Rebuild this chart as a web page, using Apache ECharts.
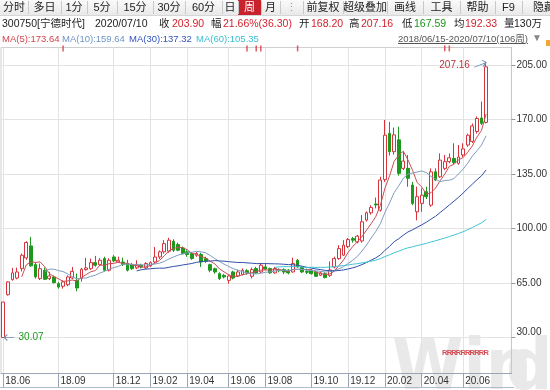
<!DOCTYPE html>
<html><head><meta charset="utf-8">
<script src="https://cdn.jsdelivr.net/npm/echarts@6/dist/echarts.min.js"></script>
<style>
html,body{margin:0;padding:0;background:#fff;overflow:hidden;}
#wrap{position:relative;width:550px;height:390px;font-family:"Liberation Sans","Noto Sans CJK SC",sans-serif;}
#c{position:absolute;left:0;top:0;width:550px;height:390px;}
.hd{position:absolute;white-space:nowrap;line-height:1;}
#tb{position:absolute;left:0;top:0;width:550px;height:15px;background:linear-gradient(#fafafa,#e9e9e9);border-bottom:1px solid #d6d6d6;}
.sep{position:absolute;top:1px;width:1px;height:13px;background:#c9c9c9;}
</style>
</head><body><div id="wrap"><div id="c"></div><div id="tb"></div></div>
<script>
// ---------- data ----------
const weeks = ['2018/06/15','2018/06/22','2018/06/29','2018/07/06','2018/07/13','2018/07/20','2018/07/27','2018/08/03','2018/08/10','2018/08/17','2018/08/24','2018/08/31','2018/09/07','2018/09/14','2018/09/21','2018/09/28','2018/10/12','2018/10/19','2018/10/26','2018/11/02','2018/11/09','2018/11/16','2018/11/23','2018/11/30','2018/12/07','2018/12/14','2018/12/21','2018/12/28',
'2019/01/04','2019/01/11','2019/01/18','2019/01/25','2019/02/01','2019/02/15','2019/02/22','2019/03/01','2019/03/08','2019/03/15','2019/03/22','2019/03/29','2019/04/04','2019/04/12','2019/04/19','2019/04/26','2019/04/30','2019/05/10','2019/05/17','2019/05/24','2019/05/31','2019/06/06','2019/06/14','2019/06/21','2019/06/28','2019/07/05','2019/07/12','2019/07/19','2019/07/26','2019/08/02','2019/08/09','2019/08/16','2019/08/23','2019/08/30','2019/09/06','2019/09/12','2019/09/20','2019/09/27','2019/09/30','2019/10/11','2019/10/18','2019/10/25','2019/11/01','2019/11/08','2019/11/15','2019/11/22','2019/11/29','2019/12/06','2019/12/13','2019/12/20','2019/12/27',
'2020/01/03','2020/01/10','2020/01/17','2020/01/23','2020/02/07','2020/02/14','2020/02/21','2020/02/28','2020/03/06','2020/03/13','2020/03/20','2020/03/27','2020/04/03','2020/04/10','2020/04/17','2020/04/24','2020/04/30','2020/05/08','2020/05/15','2020/05/22','2020/05/29','2020/06/05','2020/06/12','2020/06/19','2020/06/24','2020/07/03','2020/07/10'];

// [open, close, low, high]
const ohlc = [
[30.07,52.9,30.07,53.0],[57.6,65.8,57.0,66.2],[67.3,71.6,66.6,74.8],[68.3,72.2,67.5,75.0],[74.3,82.9,72.5,84.0],
[81.2,91.1,80.0,91.9],[88.9,76.1,75.5,94.7],[76.9,69.0,68.0,78.0],[67.9,74.3,67.0,77.6],[73.3,67.5,67.0,75.0],
[67.9,69.6,67.0,72.2],[69.0,65.3,64.8,70.0],[64.7,62.5,61.5,65.8],[63.0,65.8,61.5,66.8],[64.0,69.0,63.0,70.0],
[68.3,72.6,67.5,75.4],[66.8,61.9,59.8,71.1],[67.9,73.9,66.0,74.8],[73.7,74.8,73.0,81.2],[74.3,78.2,73.5,80.8],
[78.2,76.5,75.5,82.5],[76.9,79.7,76.0,81.0],[80.8,73.3,72.5,82.0],[73.3,79.7,72.5,81.0],[81.8,79.3,78.5,83.0],
[78.6,79.7,78.0,82.0],[78.6,76.9,76.0,81.4],[77.6,73.3,72.5,80.0],[76.9,74.3,73.5,78.0],[74.8,76.5,74.0,79.7],
[76.5,75.4,74.5,77.5],[74.8,77.6,74.0,78.5],[76.1,78.2,75.5,79.0],[78.6,81.8,77.5,88.3],[81.8,85.1,80.5,86.0],
[85.1,90.4,84.0,92.6],[85.5,92.6,84.5,94.1],[91.9,86.1,85.0,93.2],[89.8,86.1,85.5,91.0],[87.6,84.0,83.5,88.5],
[85.1,83.4,81.9,86.1],[84.0,80.8,80.0,85.0],[82.9,84.0,81.9,85.1],[83.4,78.6,75.4,84.5],[80.8,79.0,78.0,82.0],
[76.9,73.3,72.0,77.5],[74.3,72.2,71.0,75.0],[71.1,67.9,67.0,72.0],[70.0,69.0,68.0,71.0],[66.8,69.6,64.7,70.5],
[72.2,68.3,67.5,73.0],[69.6,72.2,69.0,73.5],[70.5,73.3,70.0,74.5],[73.0,71.5,70.5,74.0],[69.4,73.7,68.0,75.0],
[74.4,71.6,71.0,75.5],[72.2,76.5,71.5,78.0],[75.4,74.1,73.5,77.6],[74.4,71.6,71.0,75.0],[71.6,74.4,71.0,75.5],
[73.5,73.0,72.0,74.5],[73.7,72.2,70.8,74.5],[73.3,71.6,70.7,74.0],[72.2,77.6,71.8,81.4],[79.7,75.4,75.0,80.5],
[75.4,72.2,71.5,76.0],[72.5,72.0,70.8,74.3],[73.3,71.1,70.5,74.0],[72.2,69.4,69.0,73.0],[70.1,71.6,69.5,72.5],
[71.1,68.6,68.0,72.0],[70.0,73.5,69.0,79.0],[75.4,80.8,74.5,82.0],[80.8,87.2,80.0,89.4],[83.0,89.4,82.5,92.6],
[88.5,93.0,87.5,94.0],[93.6,92.6,91.0,94.7],[91.5,95.2,90.5,96.0],[92.1,104.4,91.0,108.7],[105.5,110.2,104.5,111.0],
[110.2,113.6,109.0,115.0],[115.8,115.2,113.0,120.0],[111.9,131.2,111.0,133.3],[131.5,160.0,130.0,169.8],[161.2,149.4,147.0,168.5],
[149.4,160.2,147.5,164.9],[157.0,135.5,134.0,165.5],[138.7,143.4,137.6,149.4],[138.7,132.3,126.9,147.3],[128.0,116.2,115.1,130.0],
[110.8,120.5,105.4,126.9],[116.2,121.5,110.8,125.8],[123.7,120.5,119.0,126.9],[115.1,136.5,114.0,138.7],[136.5,131.2,130.5,138.7],
[133.3,144.0,132.5,148.3],[138.7,143.0,137.6,147.3],[143.0,145.5,142.0,148.3],[145.1,142.5,141.5,154.8],[141.9,146.0,141.0,153.7],
[147.3,151.2,146.0,154.8],[153.7,160.0,152.5,161.0],[156.0,166.0,155.0,167.5],[162.3,170.7,161.0,172.0],[171.0,167.6,166.5,181.6],
[168.2,203.9,167.59,207.16]
];

const yTicks = [30, 65, 100, 135, 170, 205];
const xTickLabels = ['18.06','18.09','18.12','19.02','19.04','19.06','19.08','19.10','19.12','20.02','20.04','20.06'];
const maPeriods = [5, 10, 30, 60];
const maHeader = ['173.64', '159.64', '137.32', '105.35'];
const rWeeks = [96,97,98,99,100,101,102,103,104,105];
const infoMineWeeks = [13, 53, 55, 56, 64, 96, 97];
const highMark = {week: 105, value: 207.16};
const lowMark = {week: 0, value: 30.07};

const toolbarItems = ['分时','多日','1分','5分','15分','30分','60分','日','周','月','⋮','前复权','超级叠加','画线','工具','帮助','F9','隐藏'];
const infoRow = [
  ['300750[宁德时代]','#222'],['2020/07/10','#222'],['收','#222'],['203.90','#d3232e'],['幅','#222'],['21.66%(36.30)','#d3232e'],
  ['开','#222'],['168.20','#d3232e'],['高','#222'],['207.16','#d3232e'],['低','#222'],['167.59','#1a951a'],
  ['均','#222'],['192.33','#d3232e'],['量','#222'],['130万','#222']
];
const rangeText = '2018/06/15-2020/07/10(106周)';

// ---------- header (layout) ----------
const tb = document.getElementById('tb');
const wrap = document.getElementById('wrap');
const tbCells = [[0,28],[28,61],[61,87],[87,117],[117,153],[153,185],[185,222],[222,238],[238,261],[261,280],[280,303],[303,343],[343,387],[387,423],[423,460],[460,495],[495,522],[522,566]];
toolbarItems.forEach((t,i)=>{
  const [a,b] = tbCells[i];
  const d = document.createElement('div');
  d.className='hd';
  d.textContent=t;
  const sel = t==='周';
  d.style.cssText += `left:${a}px;width:${b-a}px;top:0;height:15px;line-height:15px;text-align:center;font-size:11px;color:${sel?'#fff':(t==='⋮'?'#999':'#222')};` + (sel?'background:#c8232c;':'');
  tb.appendChild(d);
  if(i>0){const s=document.createElement('div');s.className='sep';s.style.left=a+'px';tb.appendChild(s);}
});
const infoX = [2,95,159,172,211,223,299,311,349,361,402,414,454,465,504,514];
infoRow.forEach(([t,c],i)=>{
  const d=document.createElement('div');d.className='hd';d.textContent=t;
  d.style.cssText+=`left:${infoX[i]}px;top:18px;font-size:10.5px;color:${c};`;
  wrap.appendChild(d);
});
const maColors = ['#c94c55','#7f9cc0','#2f4fa8','#3fc3d4'];
const maTextColors = ['#d6434e','#6f94c6','#3454bd','#3cbfd6'];
const maX = [2,62,129,196];
maPeriods.forEach((p,i)=>{
  const d=document.createElement('div');d.className='hd';
  d.textContent=`MA(${p}):${maHeader[i]}`;
  d.style.cssText+=`left:${maX[i]}px;top:33.5px;font-size:9.5px;color:${maTextColors[i]};`;
  wrap.appendChild(d);
});
{
  const d=document.createElement('div');d.className='hd';d.textContent=rangeText;
  d.style.cssText+=`left:398px;top:33.5px;font-size:9.5px;color:#555;text-decoration:underline;`;
  wrap.appendChild(d);
  const t=document.createElement('div');t.className='hd';t.textContent='▼';
  t.style.cssText+=`left:532px;top:33px;font-size:10px;color:#888;`;
  wrap.appendChild(t);
  const o=document.createElement('div');o.className='hd';
  o.style.cssText+=`left:546px;top:40px;width:4px;height:6px;background:#f0a830;`;
  wrap.appendChild(o);
}

// ---------- chart ----------
const closes = ohlc.map(r=>r[1]);
function ma(n){
  return closes.map((_,i)=>{
    if(i<n-1) return '-';
    let s=0; for(let k=i-n+1;k<=i;k++) s+=closes[k];
    return +(s/n).toFixed(2);
  });
}
const fmtWeek = w => w.slice(2,4)+'.'+w.slice(5,7);
const tickIdx = new Set(xTickLabels.map(l => weeks.findIndex(w => fmtWeek(w)===l)));
const slots = weeks.length + 5;
const yMin = 7, yMax = 216.3;

const chart = echarts.init(document.getElementById('c'));
const arrowR = 'path://M0,7 L12,3 M8,1 L12,3 L9,6.5';
const arrowL = 'path://M10,4 L0,4 M3,1.5 L0,4 L3,6.5';
chart.setOption({
  animation:false,
  grid:{left:1, right:37, top:47.5, bottom:16.5, show:true, borderColor:'#cfcfcf', borderWidth:1},
  xAxis:{
    type:'category', data:weeks, max:slots-1, boundaryGap:true,
    axisLine:{lineStyle:{color:'#9aa4b4'}},
    axisTick:{show:true, alignWithLabel:true, length:14, interval:(i)=>tickIdx.has(i), lineStyle:{color:'#9aa4b4'}},
    axisLabel:{interval:(i)=>tickIdx.has(i), formatter:(v)=> v?fmtWeek(v):'', align:'left', margin:3, color:'#333', fontSize:10, padding:[0,0,0,2]},
    splitLine:{show:true, alignWithLabel:true, interval:(i)=>tickIdx.has(i), lineStyle:{color:'#e3e3e3'}}
  },
  yAxis:{
    type:'value', position:'right', min:yMin, max:yMax, scale:true,
    axisLine:{show:true, lineStyle:{color:'#c8c8c8'}},
    axisTick:{show:true, length:4, customValues:yTicks, lineStyle:{color:'#999'}},
    axisLabel:{customValues:yTicks, color:'#333', fontSize:10, margin:5,
      formatter:(v)=> v===yTicks[0] ? '{lift|'+v.toFixed(2)+'}' : v.toFixed(2),
      rich:{lift:{fontSize:10, color:'#333', padding:[0,0,11,0]}}},
    splitLine:{show:true, lineStyle:{color:'#e3e3e3'}}
  },
  graphic:[
    {type:'text', left:392, top:334, z:-10, silent:true,
      style:{text:'Win', fontSize:72, fontWeight:'bold', fontFamily:'Liberation Sans Narrow, DejaVu Sans Condensed, Liberation Sans', fill:'#e9e9e9'}},
    {type:'text', left:506, top:334, z:-10, silent:true,
      style:{text:'d', fontSize:72, fontWeight:'bold', fontFamily:'Liberation Sans Narrow, DejaVu Sans Condensed, Liberation Sans', fill:'#e9e9e9'}},
    {type:'line', z:-5, silent:true, shape:{x1:0, y1:387.5, x2:514, y2:387.5}, style:{stroke:'#b4bcc8', lineWidth:1}}
  ],
  series:[
    {type:'candlestick', data:ohlc, barWidth:'72%',
      itemStyle:{color:'#ffffff', color0:'#1d9a1d', borderColor:'#d8343c', borderColor0:'#1d9a1d', borderWidth:1},
      markPoint:{silent:true, data:[
        {coord:[highMark.week, highMark.value], value:highMark.value, symbol:arrowR, symbolSize:[12,7], symbolOffset:[-6,2],
          itemStyle:{color:'none', borderColor:'#6f8fb5', borderWidth:1},
          label:{show:true, position:'left', distance:1, formatter:highMark.value.toFixed(2), color:'#c0303a', fontSize:10, offset:[0,2]}},
        {coord:[lowMark.week, lowMark.value], value:lowMark.value, symbol:arrowL, symbolSize:[10,6], symbolOffset:[6,0],
          itemStyle:{color:'none', borderColor:'#6f8fb5', borderWidth:1},
          label:{show:true, position:'right', distance:1, formatter:lowMark.value.toFixed(2), color:'#1d9a1d', fontSize:10}}
      ]}
    },
    ...maPeriods.map((p,i)=>({type:'line', data:ma(p), showSymbol:false, symbol:'none', smooth:false,
      lineStyle:{width:1, color:maColors[i]}, z:3})),
    {type:'scatter', data:rWeeks.map(w=>[w, 20.5]), symbolSize:0, silent:true,
      label:{show:true, position:'inside', formatter:'R', color:'#d0202a', fontSize:7.5, fontWeight:'bold'}},
    {type:'scatter', data:infoMineWeeks.map(w=>[w, yMax-0.6]), symbol:'rect', symbolSize:[1.5,6], silent:true,
      itemStyle:{color:'#d4343c'}, z:5}
  ]
});
</script></body></html>
